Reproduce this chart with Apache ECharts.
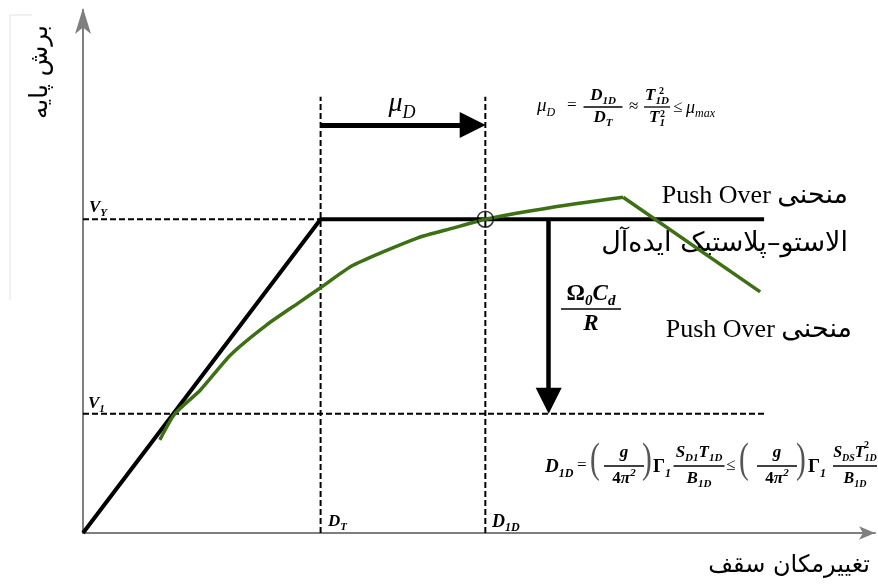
<!DOCTYPE html>
<html>
<head>
<meta charset="utf-8">
<script src="https://cdn.jsdelivr.net/npm/echarts@6/dist/echarts.min.js"></script>
<style>
  html, body { margin: 0; padding: 0; background: #fff; }
  #chart { width: 878px; height: 586px; }
</style>
</head>
<body>
<div id="chart"></div>
<script>
  // roof displacement (x) vs base shear (y), arbitrary units 0-100
  const bilinearX = [0, 30, 86]
  const bilinearY = [0, 60, 60]
  const pushoverX = [9.7, 11.6, 14.8, 18.6, 23.2, 27.4, 29.9, 34.1, 42.2, 46.7, 50.8, 59.3, 68.2, 85.5]
  const pushoverY = [17.8, 22.8, 27.3, 34.0, 39.8, 44.2, 46.8, 51.2, 56.4, 58.3, 60.0, 62.3, 64.2, 46.1]
  const peakIndex = 12
  const DT = 30
  const D1D = 50.8
  const VY = 60
  const V1 = 22.8
  const guideTop = 83.4
  const v1End = 86
  const muArrowY = 78
  const dropArrowX = 58.8

  const SERIF = '"Liberation Serif", "DejaVu Sans", serif'
  const zip = (xs, ys) => xs.map((x, i) => [x, ys[i]])

  function mathRich (fs, weight) {
    const base = { fontFamily: SERIF, fontStyle: 'italic', fontWeight: weight, fill: '#000' }
    const small = Math.round(fs * 0.64)
    return {
      m: Object.assign({}, base, { fontSize: fs, lineHeight: Math.round(fs * 1.3), verticalAlign: 'middle' }),
      n: Object.assign({}, base, { fontStyle: 'normal', fontSize: fs, lineHeight: Math.round(fs * 1.3), verticalAlign: 'middle' }),
      s: Object.assign({}, base, { fontSize: small, lineHeight: small, verticalAlign: 'bottom' }),
      p: Object.assign({}, base, { fontSize: small, lineHeight: small, verticalAlign: 'top' })
    }
  }

  function tex (x, y, text, fs, align, weight) {
    align = align || 'center'
    return {
      type: 'text', x: x, y: y, silent: true,
      style: {
        text: text, rich: mathRich(fs, weight || 'bold'), fill: '#000',
        fontSize: fs, fontFamily: SERIF, fontStyle: 'italic',
        align: align, textAlign: align, verticalAlign: 'middle', textVerticalAlign: 'middle'
      }
    }
  }

  function plain (x, y, text, fs, align, extra) {
    align = align || 'center'
    return {
      type: 'text', x: x, y: y, silent: true,
      style: Object.assign({
        text: text, fill: '#000', fontSize: fs, fontFamily: SERIF,
        align: align, textAlign: align, verticalAlign: 'middle', textVerticalAlign: 'middle'
      }, extra || {})
    }
  }

  function hline (x1, x2, y, w) {
    return { type: 'line', silent: true, shape: { x1: x1, y1: y, x2: x2, y2: y }, style: { stroke: '#000', lineWidth: w || 1.2 } }
  }

  function frac (cx, cy, num, den, w, fs, gap, weight) {
    gap = gap || 13
    return [
      tex(cx, cy - gap, num, fs, 'center', weight),
      hline(cx - w / 2, cx + w / 2, cy, 1.3),
      tex(cx, cy + gap, den, fs, 'center', weight)
    ]
  }

  // Latin words in serif, Persian words slightly larger
  function label (x, y, text) {
    return {
      type: 'text', x: x, y: y, silent: true,
      style: {
        text: text, fill: '#000', fontSize: 26, fontFamily: SERIF,
        align: 'right', textAlign: 'right', verticalAlign: 'middle', textVerticalAlign: 'middle',
        rich: {
          l: { fontSize: 26, fontFamily: SERIF, fill: '#000' },
          a: { fontSize: 27, fontFamily: '"DejaVu Sans"', fill: '#000' }
        }
      }
    }
  }

  function _getGraphics () {
    let g = []
    // faint scan bracket
    g.push({ type: 'polyline', silent: true, shape: { points: [[32, 15], [10, 15], [10, 300]] }, style: { stroke: '#e2e2e2', lineWidth: 1, fill: null } })
    // axis titles
    g.push(Object.assign(plain(40, 72, 'برش پایه', 25, 'center', { fontFamily: '"DejaVu Sans"' }), { rotation: Math.PI / 2 }))
    g.push(plain(870, 566, 'تغییرمکان سقف', 24, 'right', { fontFamily: '"DejaVu Sans"' }))
    // point labels
    g.push(tex(89, 208, '{m|V}{s|Y}', 17, 'left'))
    g.push(tex(88, 404, '{m|V}{s|1}', 17, 'left'))
    g.push(tex(328, 522, '{m|D}{s|T}', 17, 'left'))
    g.push(tex(492, 522, '{m|D}{s|1D}', 18, 'left'))
    g.push(tex(402, 104, '{m|μ}{s|D}', 28, 'center', 'normal'))
    // curve legends
    g.push(label(848, 196, '{l|Push Over }{a|منحنی}'))
    g.push(label(848, 244, '{a|الاستو–پلاستیک ایده‌آل}'))
    g.push(label(852, 330, '{l|Push Over }{a|منحنی}'))
    // overstrength ratio
    g = g.concat(frac(591, 309, '{n|Ω}{s|0}{m|C}{s|d}', '{m|R}', 60, 23, 15))
    // ductility formula
    g.push(tex(537, 106, '{m|μ}{s|D}', 19, 'left', 'normal'))
    g.push(plain(567, 106, '=', 17, 'left'))
    g = g.concat(frac(603, 107, '{m|D}{s|1D}', '{m|D}{s|T}', 39, 17, 11))
    g.push(plain(629, 107, '≈', 17, 'left'))
    g = g.concat(frac(657, 107, '{m|T}{s|1D}', '{m|T}{s|1}', 26, 17, 11))
    g.push(plain(659, 91, '2', 10, 'left', { fontWeight: 'bold' }))
    g.push(plain(660, 114, '2', 10, 'left', { fontWeight: 'bold' }))
    g.push(plain(673, 108, '≤', 17, 'left'))
    g.push(tex(686, 108, '{m|μ}{s|max}', 18, 'left', 'normal'))
    // displacement formula
    const paren = { fontWeight: 'normal', fill: '#555' }
    g.push(tex(545, 467, '{m|D}{s|1D}', 19, 'left'))
    g.push(plain(577, 466, '=', 17, 'left'))
    g.push(Object.assign(plain(590, 461, '(', 42, 'left', paren), { scaleX: 0.7 }))
    g = g.concat(frac(624, 466, '{m|g}', '{n|4}{m|π}{p|2}', 40, 17, 13))
    g.push(Object.assign(plain(642, 461, ')', 42, 'left', paren), { scaleX: 0.7 }))
    g.push(tex(653, 467, '{n|Γ}{s|1}', 19, 'left'))
    g = g.concat(frac(699, 466, '{m|S}{s|D1}{m|T}{s|1D}', '{m|B}{s|1D}', 51, 17, 13))
    g.push(plain(726, 466, '≤', 17, 'left'))
    g.push(Object.assign(plain(739, 461, '(', 42, 'left', paren), { scaleX: 0.7 }))
    g = g.concat(frac(777, 466, '{m|g}', '{n|4}{m|π}{p|2}', 40, 17, 13))
    g.push(Object.assign(plain(796, 461, ')', 42, 'left', paren), { scaleX: 0.7 }))
    g.push(tex(808, 467, '{n|Γ}{s|1}', 19, 'left'))
    g = g.concat(frac(855, 466, '{m|S}{s|DS}{m|T}{s|1D}', '{m|B}{s|1D}', 44, 16, 13))
    g.push(plain(864, 445, '2', 10, 'left', { fontWeight: 'bold' }))
    return g
  }

  function dashed (data, width) {
    return {
      type: 'line', data: data, symbol: 'none', silent: true,
      lineStyle: { color: '#000', width: width || 2, type: [6, 3] }
    }
  }

  function _getSettings () {
    const axisLine = { lineStyle: { color: '#7f7f7f', width: 2 }, symbol: ['none', 'arrow'] }
    const pushover = zip(pushoverX, pushoverY)
    const greenStyle = { color: '#3d6f14', width: 3.5 }
    return {
      animation: false,
      grid: { left: 83, right: 3, top: 10, bottom: 53 },
      xAxis: {
        type: 'value', min: 0, max: 100,
        axisLine: Object.assign({}, axisLine, { symbolSize: [10, 16], symbolOffset: [0, 0] }),
        axisTick: { show: false }, axisLabel: { show: false }, splitLine: { show: false }
      },
      yAxis: {
        type: 'value', min: 0, max: 100,
        axisLine: Object.assign({}, axisLine, { onZero: false, symbolSize: [12, 26], symbolOffset: [0, 2] }),
        axisTick: { show: false }, axisLabel: { show: false }, splitLine: { show: false }
      },
      series: [
        dashed([[0, V1], [v1End, V1]]),
        dashed([[0, VY], [DT, VY]]),
        dashed([[DT, 0], [DT, guideTop]]),
        dashed([[D1D, 0], [D1D, guideTop]]),
        {
          name: 'bilinear', type: 'line', data: zip(bilinearX, bilinearY), symbol: 'none',
          lineStyle: { color: '#000', width: 4 }, z: 4
        },
        {
          name: 'pushover', type: 'line', data: pushover.slice(0, peakIndex + 1), symbol: 'none', smooth: 0.2,
          lineStyle: greenStyle, z: 5
        },
        {
          name: 'pushover', type: 'line', data: pushover.slice(peakIndex), symbol: 'none',
          lineStyle: greenStyle, z: 5
        },
        {
          type: 'scatter', data: [[D1D, VY]], symbol: 'circle', symbolSize: 16,
          itemStyle: { color: 'rgba(0,0,0,0)', borderColor: '#000', borderWidth: 1.5 }, z: 6
        },
        {
          type: 'lines', coordinateSystem: 'cartesian2d', symbol: ['none', 'triangle'], symbolSize: [20, 26],
          lineStyle: { color: '#000', width: 5, opacity: 1 }, itemStyle: { color: '#000' },
          data: [
            { coords: [[DT, muArrowY], [D1D - 1.6, muArrowY]] }
          ]
        },
        {
          type: 'lines', coordinateSystem: 'cartesian2d', symbol: ['none', 'triangle'], symbolSize: [15, 26],
          lineStyle: { color: '#000', width: 4.5, opacity: 1 }, itemStyle: { color: '#000' },
          data: [
            { coords: [[dropArrowX, VY], [dropArrowX, V1 + 2.5]] }
          ]
        }
      ],
      graphic: _getGraphics()
    }
  }

  const chart = echarts.init(document.getElementById('chart'))
  chart.setOption(_getSettings())
</script>
</body>
</html>
